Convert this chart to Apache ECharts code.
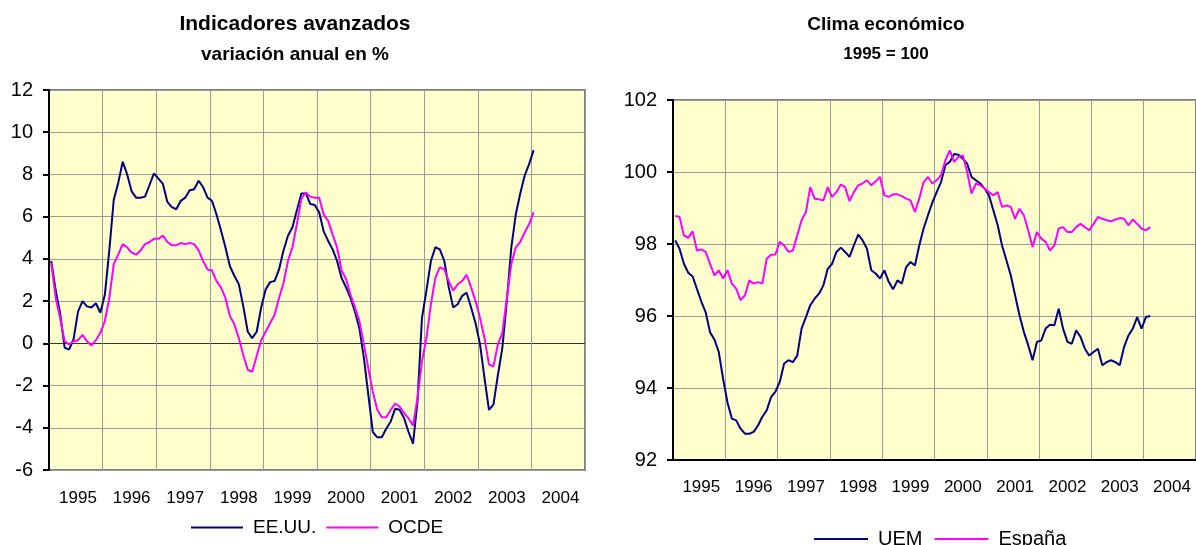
<!DOCTYPE html>
<html>
<head>
    <meta charset="utf-8">
    <title>Indicadores avanzados / Clima económico</title>
    <script type="text/javascript" src="https://cdn.jsdelivr.net/npm/echarts@6/dist/echarts.min.js"></script>
    <style>
        html, body { margin: 0; padding: 0; background: #fff; }
    </style>
</head>
<body>
<div id="main" style="width: 1196px;height:545px;"></div>
<script type="text/javascript">
    // años del eje x (cada año = 12 meses)
    var years = ['1995', '1996', '1997', '1998', '1999', '2000', '2001', '2002', '2003', '2004'];

    // Indicadores avanzados, variación anual en % (mensual desde ene-1995)
    var eeuu = [3.9, 2.5, 1.4, -0.2, -0.3, 0.2, 1.5, 2.0, 1.75, 1.7, 1.9, 1.45,
        2.3, 4.4, 6.8, 7.6, 8.6, 8.0, 7.2, 6.9, 6.9, 6.95, 7.5, 8.05,
        7.8, 7.55, 6.7, 6.45, 6.35, 6.75, 6.9, 7.25, 7.3, 7.7, 7.4, 6.9,
        6.75, 6.1, 5.35, 4.55, 3.65, 3.2, 2.8, 1.75, 0.55, 0.25, 0.55, 1.7,
        2.55, 2.9, 2.95, 3.5, 4.4, 5.1, 5.5, 6.3, 7.1, 7.1, 6.6, 6.55,
        6.2, 5.3, 4.85, 4.45, 3.9, 3.1, 2.65, 2.15, 1.5, 0.7, -0.7, -2.45,
        -4.2, -4.45, -4.45, -4.05, -3.7, -3.1, -3.15, -3.55, -4.2, -4.75, -2.75, 1.2,
        2.5, 3.9, 4.55, 4.45, 3.9, 2.65, 1.7, 1.85, 2.25, 2.4, 1.7, 0.95,
        -0.05, -1.65, -3.15, -2.9, -1.5, -0.2, 2.0, 4.55, 6.1, 7.1, 7.95, 8.5, 9.15];
    var ocde = [3.8, 2.15, 1.2, 0.1, -0.05, 0.1, 0.15, 0.4, 0.1, -0.1, 0.15, 0.5,
        1.05, 2.15, 3.75, 4.2, 4.7, 4.55, 4.3, 4.2, 4.4, 4.7, 4.8, 4.95,
        4.95, 5.1, 4.8, 4.65, 4.65, 4.75, 4.7, 4.75, 4.7, 4.4, 3.9, 3.5,
        3.45, 2.95, 2.65, 2.15, 1.3, 0.9, 0.25, -0.55, -1.25, -1.35, -0.6, 0.15,
        0.55, 0.95, 1.35, 2.15, 2.85, 3.9, 4.55, 5.65, 6.85, 7.15, 6.95, 6.9,
        6.9, 6.1, 5.8, 5.15, 4.55, 3.45, 3.05, 2.3, 1.7, 1.05, -0.05, -1.2,
        -2.3, -3.15, -3.5, -3.5, -3.15, -2.85, -3.0, -3.3, -3.55, -3.9, -2.6, -0.85,
        0.25, 1.85, 3.1, 3.6, 3.5, 2.95, 2.5, 2.8, 2.95, 3.25, 2.65, 2.0,
        1.2, 0.25, -1.0, -1.1, -0.05, 0.5, 2.15, 3.75, 4.55, 4.8, 5.25, 5.65, 6.2];

    // Clima económico, 1995 = 100 (mensual desde ene-1995)
    var uem = [98.1, 97.87, 97.45, 97.2, 97.1, 96.75, 96.4, 96.1, 95.55, 95.35, 95.0, 94.25,
        93.6, 93.15, 93.1, 92.87, 92.73, 92.73, 92.78, 92.96, 93.2, 93.38, 93.75, 93.9,
        94.17, 94.68, 94.77, 94.72, 94.9, 95.65, 95.97, 96.3, 96.48, 96.62, 96.85, 97.31,
        97.45, 97.78, 97.9, 97.78, 97.64, 97.96, 98.26, 98.1, 97.87, 97.27, 97.18, 97.04,
        97.27, 96.95, 96.74, 96.99, 96.9, 97.36, 97.5, 97.4, 97.96, 98.43, 98.8, 99.15,
        99.44, 99.72, 100.19, 100.28, 100.5, 100.48, 100.37, 100.23, 99.86, 99.77, 99.68, 99.54,
        99.35, 98.94, 98.52, 97.96, 97.55, 97.13, 96.57, 96.02, 95.56, 95.19, 94.77, 95.28,
        95.32, 95.65, 95.76, 95.74, 96.2, 95.65, 95.28, 95.23, 95.6, 95.42, 95.09, 94.9,
        95.0, 95.09, 94.63, 94.72, 94.77, 94.72, 94.63, 95.14, 95.46, 95.65, 95.97, 95.65,
        95.97, 96.0];
    var espana = [98.78, 98.75, 98.24, 98.17, 98.35, 97.82, 97.85, 97.78, 97.45, 97.13, 97.27, 97.04,
        97.27, 96.9, 96.76, 96.44, 96.57, 96.99, 96.9, 96.94, 96.9, 97.59, 97.7, 97.71,
        98.06, 97.96, 97.78, 97.82, 98.24, 98.66, 98.89, 99.58, 99.26, 99.24, 99.21, 99.58,
        99.31, 99.44, 99.65, 99.58, 99.19, 99.44, 99.63, 99.68, 99.77, 99.63, 99.74, 99.86,
        99.35, 99.31, 99.38, 99.38, 99.33, 99.26, 99.21, 98.89, 99.26, 99.72, 99.86, 99.68,
        99.77, 99.91, 100.32, 100.6, 100.28, 100.42, 100.46, 100.0, 99.4, 99.68, 99.63, 99.54,
        99.44, 99.35, 99.44, 99.03, 99.07, 99.03, 98.7, 98.98, 98.8, 98.38, 97.92, 98.33,
        98.15, 98.06, 97.82, 97.96, 98.43, 98.47, 98.33, 98.33, 98.47, 98.56, 98.47, 98.38,
        98.56, 98.75, 98.7, 98.66, 98.63, 98.68, 98.72, 98.7, 98.52, 98.68, 98.56, 98.43,
        98.38, 98.47];

    // meses como categorías
    var months = [];
    years.forEach(function (y) {
        for (var m = 1; m <= 12; m++) {
            months.push(y + '-' + (m < 10 ? '0' + m : m));
        }
    });

    var font = "'Liberation Sans', Arial, sans-serif";
    var gridColor = '#9a9a9a';

    function xAxis(gridIndex) {
        return {
            type: 'category',
            gridIndex: gridIndex,
            data: months,
            boundaryGap: true,
            axisLine: {show: gridIndex === 1, onZero: false, lineStyle: {color: '#000', width: 2}},
            axisTick: {show: false, interval: function (i) { return i % 12 === 0; }},
            axisLabel: {
                interval: function (i) { return i % 12 === 6; },
                formatter: function (v) { return v.slice(0, 4); },
                color: '#000', fontSize: 17, fontFamily: font,
                margin: gridIndex === 0 ? 20 : 19
            },
            splitLine: {
                show: true,
                interval: function (i) { return i % 12 === 0; },
                lineStyle: {color: gridColor, width: 1}
            }
        };
    }

    var myChart = echarts.init(document.getElementById('main'));
    var option = {
        animation: false,
        backgroundColor: '#fff',
        textStyle: {fontFamily: font},
        title: [{
            text: 'Indicadores avanzados',
            subtext: 'variación anual en %',
            left: 290, top: 9, textAlign: 'center', itemGap: 10,
            textStyle: {fontSize: 21, fontWeight: 'bold', color: '#000', fontFamily: font},
            subtextStyle: {fontSize: 19, fontWeight: 'bold', color: '#000', fontFamily: font}
        }, {
            text: 'Clima económico',
            subtext: '1995 = 100',
            left: 881, top: 10, textAlign: 'center', itemGap: 12,
            textStyle: {fontSize: 19, fontWeight: 'bold', color: '#000', fontFamily: font},
            subtextStyle: {fontSize: 17, fontWeight: 'bold', color: '#000', fontFamily: font}
        }],
        legend: [{
            left: 191, top: 518, padding: 0,
            itemWidth: 52, itemHeight: 2, itemGap: 10,
            textStyle: {fontSize: 19, color: '#000', fontFamily: font, padding: [0, 0, 0, 5]},
            data: [{name: 'EE.UU.', icon: 'rect'}, {name: 'OCDE', icon: 'rect'}]
        }, {
            left: 814, top: 529, padding: 0,
            itemWidth: 54, itemHeight: 2, itemGap: 12,
            textStyle: {fontSize: 20, color: '#000', fontFamily: font, padding: [0, 0, 0, 5]},
            data: [{name: 'UEM', icon: 'rect'}, {name: 'España', icon: 'rect'}]
        }],
        grid: [{
            left: 49, top: 90, right: 611, bottom: 75,
            show: true, backgroundColor: '#FFFFCC', borderColor: '#808080', borderWidth: 2
        }, {
            left: 673, top: 100, right: -5, bottom: 85,
            show: true, backgroundColor: '#FFFFCC', borderColor: '#808080', borderWidth: 2
        }],
        xAxis: [xAxis(0), xAxis(1)],
        yAxis: [{
            type: 'value', gridIndex: 0,
            min: -6, max: 12, interval: 2,
            axisLine: {show: true, lineStyle: {color: '#000', width: 2}},
            axisTick: {show: true, length: 6, lineStyle: {color: '#000', width: 2}},
            axisLabel: {color: '#000', fontSize: 20, fontFamily: font, margin: 16},
            splitLine: {
                lineStyle: {
                    color: [gridColor, gridColor, gridColor, '#333', gridColor, gridColor,
                        gridColor, gridColor, gridColor, gridColor],
                    width: 1
                }
            }
        }, {
            type: 'value', gridIndex: 1,
            min: 92, max: 102, interval: 2,
            axisLine: {show: true, lineStyle: {color: '#000', width: 2}},
            axisTick: {show: true, length: 6, lineStyle: {color: '#000', width: 2}},
            axisLabel: {color: '#000', fontSize: 20, fontFamily: font, margin: 16},
            splitLine: {lineStyle: {color: gridColor, width: 1}}
        }],
        series: [{
            name: 'EE.UU.', type: 'line', xAxisIndex: 0, yAxisIndex: 0,
            data: eeuu, symbol: 'none', color: '#000080',
            lineStyle: {width: 2, color: '#000080'}
        }, {
            name: 'OCDE', type: 'line', xAxisIndex: 0, yAxisIndex: 0,
            data: ocde, symbol: 'none', color: '#FF00FF',
            lineStyle: {width: 2, color: '#FF00FF'}
        }, {
            name: 'UEM', type: 'line', xAxisIndex: 1, yAxisIndex: 1,
            data: uem, symbol: 'none', color: '#000080',
            lineStyle: {width: 2, color: '#000080'}
        }, {
            name: 'España', type: 'line', xAxisIndex: 1, yAxisIndex: 1,
            data: espana, symbol: 'none', color: '#FF00FF',
            lineStyle: {width: 2, color: '#FF00FF'}
        }]
    };
    myChart.setOption(option);
</script>
</body>
</html>
